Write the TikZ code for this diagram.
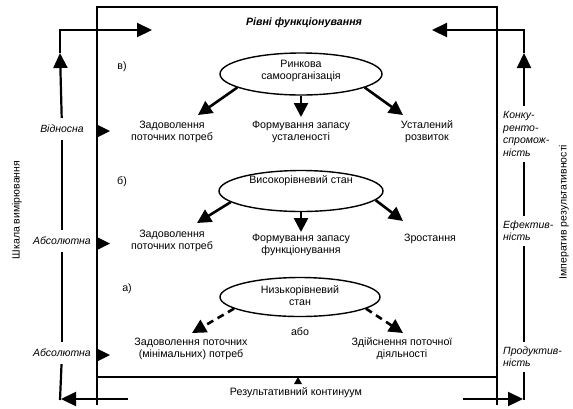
\documentclass[tikz,border=0pt]{standalone}
\usepackage{fontspec}
\setmainfont{Liberation Sans}
\usetikzlibrary{arrows.meta,shapes.geometric}

\begin{document}
\begin{tikzpicture}[x=1bp,y=-1bp,
  txt/.style={font=\fontsize{10.7}{12}\selectfont, align=center, inner sep=0pt},
  scalelbl/.style={font=\fontsize{10.5}{12.5}\selectfont\itshape, inner xsep=0pt, inner ysep=7pt},
  sidelbl/.style={font=\fontsize{10.5}{12.5}\selectfont\itshape, align=left, anchor=west, inner xsep=0pt, inner ysep=5pt},
  state/.style={ellipse, draw, line width=1.4bp, inner sep=0pt},
  flow/.style={line width=2.6bp, -{Triangle[length=14bp,width=14bp]}},
  optflow/.style={flow, dash pattern=on 7bp off 5bp},
  framel/.style={line width=1.8bp},
  scaleline/.style={line width=2.2bp},
  scaletip/.style={-{Triangle[length=15bp,width=14bp]}},
  marker/.style={fill=black},
]
\useasboundingbox (0,0) rectangle (573,408);

% ---------- outer frame ----------
\coordinate (fbl) at (97,405);
\coordinate (ftl) at (97,7);
\coordinate (ftr) at (497,7);
\coordinate (fbr) at (497,405);
\draw[framel] (fbl) -- (ftl) -- (ftr) -- (fbr);
\draw[framel] (97,377) -- (497,377);

\node[font=\fontsize{10.7}{12}\selectfont\bfseries\itshape] (title) at (304,23) {Рівні функціонування};

% ---------- level labels ----------
\node[txt] (lvlc) at (122,67) {в)};
\node[txt] (lvlb) at (122,182) {б)};
\node[txt] (lvla) at (127,289) {а)};

% ---------- level в ----------
\node[state, minimum width=162bp, minimum height=42bp] (e1) at (301,74) {};
\node[txt] (e1t) at (301,70.5) {Ринкова\\самоорганізація};
\node[txt] (t1a) at (172,132) {Задоволення\\поточних потреб};
\node[txt] (t1b) at (301,132) {Формування запасу\\усталеності};
\node[txt] (t1c) at (427,132) {Усталений\\розвиток};
\draw[flow] (e1.192) -- ([shift={(26,-17)}]t1a.center);
\draw[flow] (e1.south) -- ([shift={(0,-15)}]t1b.center);
\draw[flow] (e1.348) -- ([shift={(-24,-17)}]t1c.center);

% ---------- level б ----------
\node[state, minimum width=164bp, minimum height=41bp] (e2) at (301,191) {};
\node[txt] (e2t) at (301,181) {Високорівневий стан};
\node[txt] (t2a) at (172,241) {Задоволення\\поточних потреб};
\node[txt] (t2b) at (301,245) {Формування запасу\\функціонування};
\node[txt] (t2c) at (430,239) {Зростання};
\draw[flow] (e2.189) -- ([shift={(25,-18)}]t2a.center);
\draw[flow] (e2.south) -- ([shift={(0,-13)}]t2b.center);
\draw[flow] (e2.353) -- ([shift={(-27,-18)}]t2c.center);

% ---------- level а ----------
\node[state, minimum width=160bp, minimum height=39bp] (e3) at (300,297) {};
\node[txt] (e3t) at (300,296) {Низькорівневий\\стан};
\node[txt] (t3a) at (191,349) {Задоволення поточних\\(мінімальних) потреб};
\node[txt] (t3b) at (402,349) {Здійснення поточної\\діяльності};
\node[txt] (or) at (300,332) {або};
\draw[optflow] (e3.190) -- ([shift={(1,-16)}]t3a.center);
\draw[optflow] (e3.350) -- ([shift={(1,-16)}]t3b.center);

% ---------- bottom continuum ----------
\fill[marker] (294,384) -- (298,377) -- (302,384) -- cycle;
\node[txt] (cont) at (296,393) {Результативний континуум};

% ---------- measuring scale (left) ----------
\node[scalelbl] (rel) at (62,129) {Відносна};
\node[scalelbl] (abs1) at (62,241) {Абсолютна};
\node[scalelbl] (abs0) at (62,353) {Абсолютна};
\coordinate (lbot) at (60,400);
\coordinate (lmid) at (60,53);
\coordinate (ltop) at (60,30);
\coordinate (ltip) at (152,30);
\coordinate (lstart) at (128,399);
\draw[scaleline] (lbot) -- (abs0);
\draw[scaleline] (abs0) -- (abs1);
\draw[scaleline] (abs1) -- (rel);
\draw[scaleline, scaletip] (rel) -- (lmid);
\draw[scaleline, scaletip] (lmid) -- (ltop) -- (ltip);
\draw[scaleline, scaletip] (lstart) -- (61,399);
\node[font=\fontsize{10.5}{12}\selectfont, rotate=90] (scalename) at (17,210) {Шкала вимірювання};

\fill[marker] (97,124.5) -- (110,131) -- (97,137.5) -- cycle;
\fill[marker] (97,237) -- (110,243.5) -- (97,250) -- cycle;
\fill[marker] (97,348.5) -- (110,355) -- (97,361.5) -- cycle;

% ---------- performance imperative (right) ----------
\node[sidelbl] (rcomp) at (503,134) {Конку-\\ренто-\\спромож-\\ність};
\node[sidelbl] (reff) at (503,231) {Ефектив-\\ність};
\node[sidelbl] (rprod) at (503,357) {Продуктив-\\ність};
\coordinate (rbot) at (524,400);
\coordinate (rmid) at (524,53);
\coordinate (rtop) at (524,30);
\coordinate (rtip) at (432,30);
\coordinate (rstart) at (463,399);
\draw[scaleline] (rbot) -- (rprod.south -| rbot);
\draw[scaleline] (rprod.north -| rbot) -- (reff.south -| rbot);
\draw[scaleline] (reff.north -| rbot) -- (rcomp.south -| rbot);
\draw[scaleline, scaletip] (rcomp.north -| rbot) -- (rmid);
\draw[scaleline, scaletip] (rmid) -- (rtop) -- (rtip);
\draw[scaleline, scaletip] (rstart) -- (523,399);
\node[font=\fontsize{10.5}{12}\selectfont, rotate=90] (impname) at (564,212) {Імператив результативності};
\end{tikzpicture}
\end{document}
